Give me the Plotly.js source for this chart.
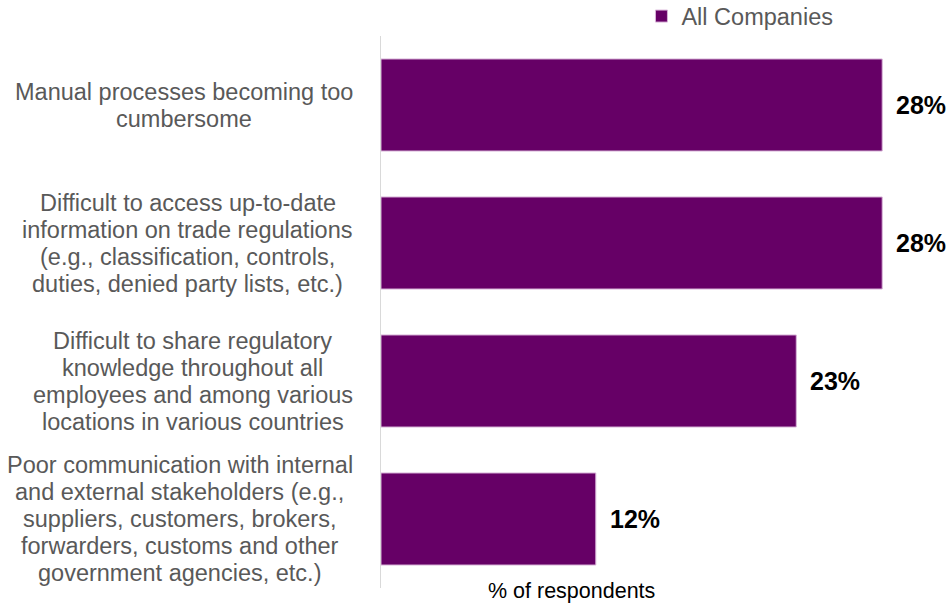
<!DOCTYPE html>
<html>
<head>
<meta charset="utf-8">
<script src="https://cdn.plot.ly/plotly-3.0.1.min.js"></script>
<style>html,body{margin:0;padding:0;background:#fff;}#chart{width:952px;height:604px;}</style>
</head>
<body>
<div id="chart"></div>
<script>
var categories = [
  "Manual processes becoming too<br>cumbersome",
  "Difficult to access up-to-date<br>information on trade regulations<br>(e.g., classification, controls,<br>duties, denied party lists, etc.)",
  "Difficult to share regulatory<br>knowledge throughout all<br>employees and among various<br>locations in various countries",
  "Poor communication with internal<br>and external stakeholders (e.g.,<br>suppliers, customers, brokers,<br>forwarders, customs and other<br>government agencies, etc.)"
];
var values = [28, 28, 23.2, 12];
var seriesName = "All Companies";
var axisTitle = "% of respondents";

var FONT = "Liberation Sans, Arial, sans-serif";
var LABEL_SIZE = 23.5;
var LINE_H = 27;
var LABEL_GAP = 28;

var ctx = document.createElement("canvas").getContext("2d");
ctx.font = LABEL_SIZE + "px 'Liberation Sans', Arial, sans-serif";

var trace = {
  type: "bar",
  orientation: "h",
  name: seriesName,
  x: values,
  y: categories,
  marker: {color: "#660066", line: {color: "#d8b4d8", width: 1}},
  hoverinfo: "x+y",
  cliponaxis: false
};

var annotations = [];
categories.forEach(function (c, i) {
  var lines = c.split("<br>");
  var n = lines.length;
  var w = 0;
  lines.forEach(function (ln) { w = Math.max(w, ctx.measureText(ln).width); });
  lines.forEach(function (ln, j) {
    annotations.push({
      xref: "x", yref: "y", x: 0, y: c,
      xanchor: "center", yanchor: "middle",
      xshift: -LABEL_GAP - w / 2, yshift: ((n - 1) / 2 - j) * LINE_H,
      text: ln, showarrow: false,
      font: {family: FONT, size: LABEL_SIZE, color: "#595959"}
    });
  });
  annotations.push({
    xref: "x", yref: "y", x: values[i], y: c,
    xanchor: "left", yanchor: "middle", xshift: 12,
    text: "<b>" + Math.round(values[i]) + "%</b>", showarrow: false,
    font: {family: FONT, size: 25, color: "#000000"}
  });
});
annotations.push({
  xref: "paper", yref: "paper", x: 0.354, y: 0,
  xanchor: "center", yanchor: "middle", yshift: -3,
  text: axisTitle, showarrow: false,
  font: {family: FONT, size: 21.5, color: "#000000"}
});

var layout = {
  width: 952, height: 604,
  margin: {l: 381, r: 34, t: 36, b: 16, autoexpand: false},
  paper_bgcolor: "#ffffff", plot_bgcolor: "#ffffff",
  font: {family: FONT},
  bargap: 0.333,
  showlegend: true,
  legend: {
    orientation: "h", xref: "paper", x: 0.485, yref: "container", y: 0.973,
    xanchor: "left", yanchor: "middle",
    font: {family: FONT, size: 23.5, color: "#595959"},
    bgcolor: "rgba(0,0,0,0)"
  },
  xaxis: {
    range: [0, 30], showgrid: false, zeroline: false, showticklabels: false,
    showline: false, fixedrange: true
  },
  yaxis: {
    autorange: "reversed", showticklabels: false, showgrid: false, zeroline: false,
    showline: true, linecolor: "#d9d9d9", linewidth: 1.5, ticks: ""
  },
  annotations: annotations
};

Plotly.newPlot("chart", [trace], layout, {displayModeBar: false, staticPlot: true});
</script>
</body>
</html>
